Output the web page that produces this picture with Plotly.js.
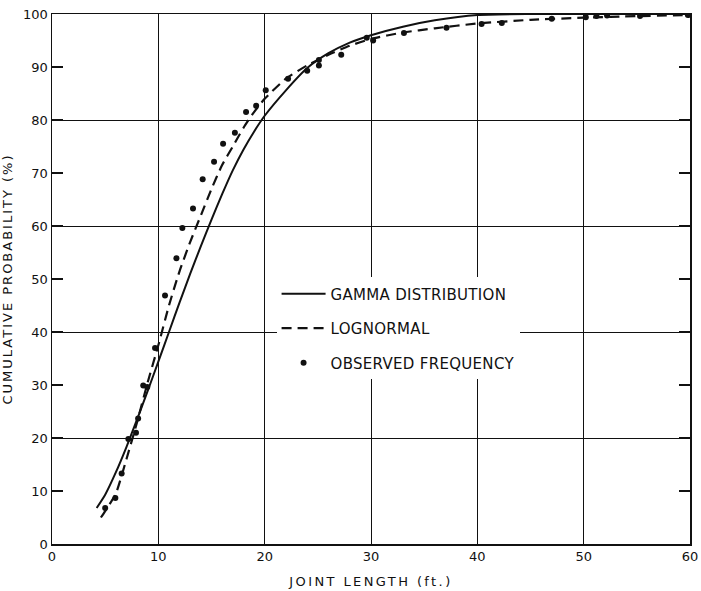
<!DOCTYPE html>
<html>
<head>
<meta charset="utf-8">
<script src="https://cdn.plot.ly/plotly-3.0.1.min.js"></script>
<style>
  html, body { margin: 0; padding: 0; background: #fff; }
  #chart { width: 701px; height: 591px; }
  .xtitle { letter-spacing: 2.4px; }
  .ytitle { letter-spacing: 2px; }
  .legendtext { letter-spacing: 0.3px; }
</style>
</head>
<body>
<div id="chart"></div>
<script>
// Gamma distribution (solid curve)
const gammaX = [4.2, 5, 6, 7, 8, 9, 10, 11, 12, 13, 14, 15, 16, 17, 18, 19, 20, 22, 24, 26, 28, 30, 33, 36, 40, 45, 50, 60];
const gammaY = [6.8, 9.3, 13.5, 18.3, 23.5, 28.9, 34.4, 40, 45.6, 51, 56.2, 61.2, 66, 70.5, 74.4, 77.8, 80.8, 85.6, 89.8, 92.6, 94.6, 96, 97.6, 98.8, 99.8, 100, 100, 100];

// Lognormal (dashed curve)
const lognX = [4.6, 5, 6, 7, 8, 9, 10, 11, 12, 13, 14, 15, 16, 17, 18, 19, 20, 22, 24, 26, 28, 30, 33, 36, 40, 45, 50, 55, 60];
const lognY = [5.0, 6.2, 9.5, 16, 23, 30.5, 37.5, 45, 51.5, 57, 62, 67, 71.5, 75, 78.5, 81.5, 84, 87.8, 90.3, 92.3, 94, 95.3, 96.5, 97.3, 98.2, 98.9, 99.3, 99.6, 99.8];

// Observed frequency (dots)
const obsX = [5.0, 5.96, 6.55, 7.18, 7.9, 8.1, 8.58, 8.96, 9.69, 10.63, 11.7, 12.26, 13.26, 14.17, 15.24, 16.09, 17.2, 18.25, 19.2, 20.1, 22.2, 24.0, 25.1, 25.1, 27.2, 29.6, 30.2, 33.1, 37.1, 40.4, 42.3, 47.0, 50.2, 51.2, 52.2, 55.3, 59.8];
const obsY = [6.8, 8.7, 13.3, 19.8, 21.0, 23.7, 29.9, 29.6, 37.0, 46.9, 53.9, 59.6, 63.3, 68.8, 72.1, 75.5, 77.6, 81.5, 82.7, 85.6, 87.8, 89.3, 90.3, 91.3, 92.3, 95.5, 95.0, 96.4, 97.4, 98.1, 98.3, 99.1, 99.4, 99.6, 99.7, 99.6, 99.8];

const seriesNames = ['GAMMA DISTRIBUTION', 'LOGNORMAL', 'OBSERVED FREQUENCY'];
const xTicks = [0, 10, 20, 30, 40, 50, 60];
const yTicks = [0, 10, 20, 30, 40, 50, 60, 70, 80, 90, 100];
const yGrid = [20, 40, 60, 80];

const FONT = 'DejaVu Sans, Arial, sans-serif';

const traces = [
  { x: gammaX, y: gammaY, name: seriesNames[0], mode: 'lines', legendgroup: 'g1',
    line: { color: '#111', width: 2, shape: 'spline', smoothing: 0.6 }, hoverinfo: 'skip' },
  { x: lognX, y: lognY, name: seriesNames[1], mode: 'lines', legendgroup: 'g2',
    line: { color: '#111', width: 2.2, dash: '10px,6px', shape: 'spline', smoothing: 0.6 }, hoverinfo: 'skip' },
  { x: obsX, y: obsY, name: seriesNames[2], mode: 'markers', legendgroup: 'g3', yaxis: 'y2',
    marker: { color: '#111', size: 6 }, hoverinfo: 'skip' }
];

const layout = {
  width: 701, height: 591,
  margin: { l: 52, r: 11, t: 14, b: 47 },
  paper_bgcolor: '#fff', plot_bgcolor: '#fff',
  font: { family: FONT, size: 13, color: '#111' },
  showlegend: true,
  legend: {
    x: 0.352, y: 0.503, xanchor: 'left', yanchor: 'top',
    bgcolor: '#fff', borderwidth: 0,
    font: { family: FONT, size: 15, color: '#111' },
    tracegroupgap: 12, itemwidth: 44
  },
  xaxis: {
    range: [0, 60], tickvals: xTicks, ticktext: xTicks.map(String),
    showgrid: true, gridcolor: '#111', gridwidth: 1,
    zeroline: false, showline: true, linecolor: '#111', linewidth: 1.5, mirror: true,
    ticks: '', tickfont: { family: FONT, size: 13, color: '#111' },
    title: { text: 'JOINT LENGTH (ft.)', font: { family: FONT, size: 13, color: '#111' }, standoff: 14 },
    automargin: false, fixedrange: true
  },
  yaxis: {
    range: [0, 100], tickvals: yTicks, ticktext: yTicks.map(String),
    showgrid: false, zeroline: false,
    showline: true, linecolor: '#111', linewidth: 1.5, mirror: 'ticks',
    ticks: 'inside', ticklen: 11, tickwidth: 1.2, tickcolor: '#111',
    tickfont: { family: FONT, size: 13, color: '#111' },
    title: { text: 'CUMULATIVE PROBABILITY (%)', font: { family: FONT, size: 13, color: '#111' }, standoff: 10 },
    automargin: false, fixedrange: true
  },
  yaxis2: {
    overlaying: 'y', anchor: 'x', side: 'left',
    range: [0, 100], tickvals: yGrid, showticklabels: false, ticks: '',
    showgrid: true, gridcolor: '#111', gridwidth: 1,
    zeroline: false, showline: false, fixedrange: true, automargin: false
  }
};

Plotly.newPlot('chart', traces, layout, { staticPlot: true, displayModeBar: false });
</script>
</body>
</html>
